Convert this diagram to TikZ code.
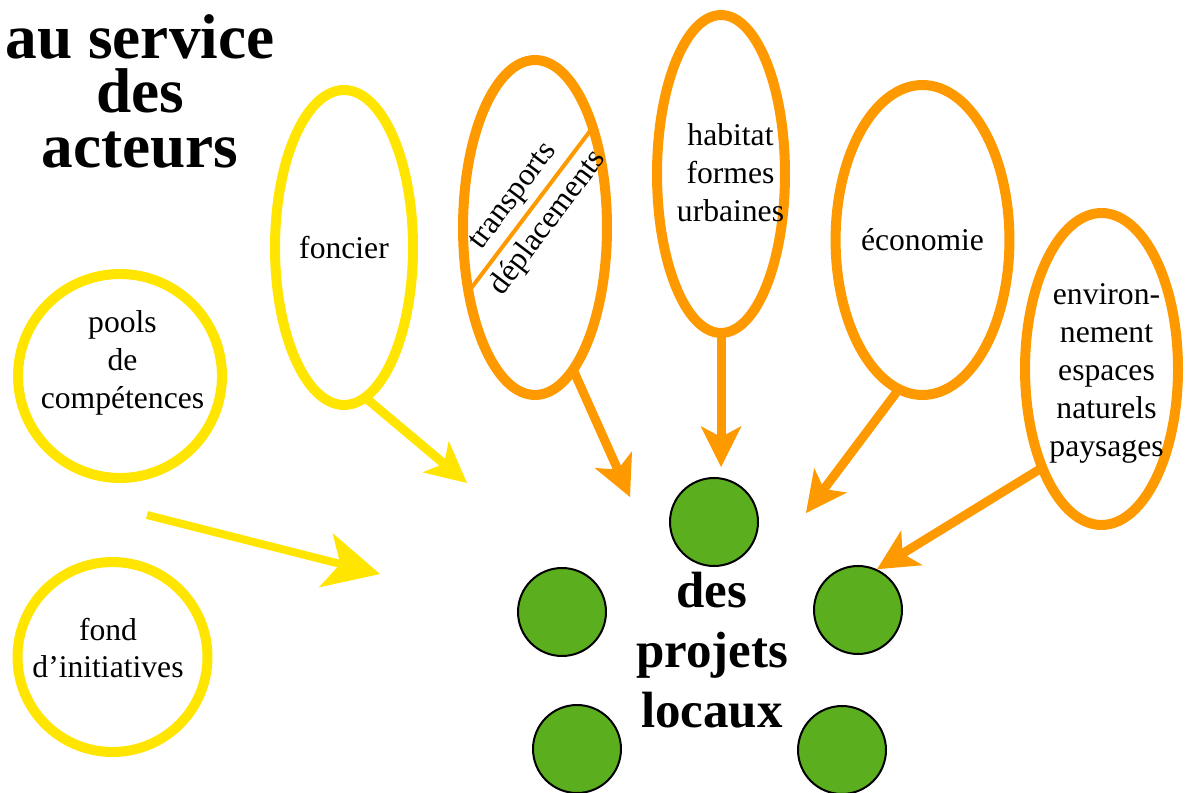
\documentclass[tikz,border=0pt]{standalone}
\usepackage{fontspec}
\setmainfont{Liberation Serif}
\usetikzlibrary{shapes.geometric, arrows.meta}

\definecolor{ayellow}{RGB}{255,229,0}
\definecolor{aorange}{RGB}{255,153,0}
\definecolor{agreen}{RGB}{91,175,30}
\newcommand{\wordfont}{\fontsize{18}{21.6}\selectfont}
\newcommand{\titlefont}{\fontsize{36}{31}\selectfont\bfseries}
\newcommand{\projfont}{\fontsize{29}{34.3}\selectfont\bfseries}

\tikzset{
	ring/.style = {circle, draw=ayellow, line width=0.2cm, inner sep=0pt, outer sep=0pt},
	theme/.style = {ellipse, draw=aorange, line width=0.2cm, inner sep=0pt, outer sep=0pt,
		align=center, font=\wordfont},
	projet/.style = {circle, draw=black, fill=agreen, line width=0.04cm, minimum size=1.76cm},
	textdata/.style = {align=center, font=\wordfont},
	arc/.style = {draw, line width=0.18cm,
		-{Stealth[length=0.82cm, width=0.82cm, inset=0.22cm, line width=0pt]}},
	bigarc/.style = {draw, line width=0.16cm,
		-{Stealth[length=1.12cm, width=1.12cm, inset=0.3cm, line width=0pt]}}
}

\begin{document}
\begin{tikzpicture}[x=0.02cm, y=-0.02cm]
		\useasboundingbox (0,0) rectangle (1185,793);
		
		\node [align=center, font=\titlefont] (title) at (140,91) {au service\\des\\acteurs};
		
		%actors
		\node [ring, minimum size=4.08cm] (pools) at (120,376) {};
		\node [ring, minimum size=3.8cm] (fond) at (112.5,657) {};
		\node [textdata] (poolstext) at (122.5,362.5) {pools\\de\\compétences};
		\node [textdata] (fondtext) at (108,648) {fond\\d’initiatives};
		
		%themes
		\node [theme, draw=ayellow, minimum width=2.76cm, minimum height=6.3cm] (foncier) at (344,247.5) {foncier};
		\node [theme, minimum width=2.88cm, minimum height=6.7cm] (transports) at (535,227.5) {};
		\node [theme, minimum width=2.56cm, minimum height=6.36cm] (habitat) at (721,174) {};
		\node [textdata] (habitattext) at (730.5,172.5) {habitat\\formes\\urbaines};
		\node [theme, minimum width=2.9cm, minimum height=6.2cm] (economie) at (922.5,240) {économie};
		\node [theme, minimum width=3.06cm, minimum height=6.24cm] (environ) at (1101.5,369) {};
		\node [textdata] (environtext) at (1106.5,373.5) {environ-\\nement\\espaces\\naturels\\paysages};
		
		\path [draw, aorange, line width=0.08cm] (transports.224) -- 
			node [sloped, above, font=\wordfont, black] (transtext) {transports}
			node [sloped, below, font=\wordfont, black] (deplatext) {déplacements} (transports.60);
		
		%projects
		\node [projet] (gtop) at (714,522) {};
		\node [projet] (gleft) at (562,612) {};
		\node [projet] (gright) at (858,610) {};
		\node [projet] (gbotleft) at (577,749) {};
		\node [projet] (gbotright) at (842,750) {};
		\node [align=center, font=\projfont] (projets) at (712,650) {des\\projets\\locaux};
		
		\coordinate (poolsfrom) at (147,515);
		\coordinate (tippools) at (380,574);
		\coordinate (tipfoncier) at (467,483);
		\coordinate (tiptrans) at (630,497);
		\coordinate (tiphabitat) at (721,467);
		\coordinate (tipeco) at (806,513);
		
		\path [arc, ayellow] (foncier.-82) -- (tipfoncier);
		\path [bigarc, ayellow] (poolsfrom) -- (tippools);
		\path [arc, aorange] (transports.-75) -- (tiptrans);
		\path [arc, aorange] (habitat.south) -- (tiphabitat);
		\path [arc, aorange] (economie.-99) -- (tipeco);
		\path [arc, aorange] (environ.-121) -- (gright.65);
		
	\end{tikzpicture}
\end{document}
